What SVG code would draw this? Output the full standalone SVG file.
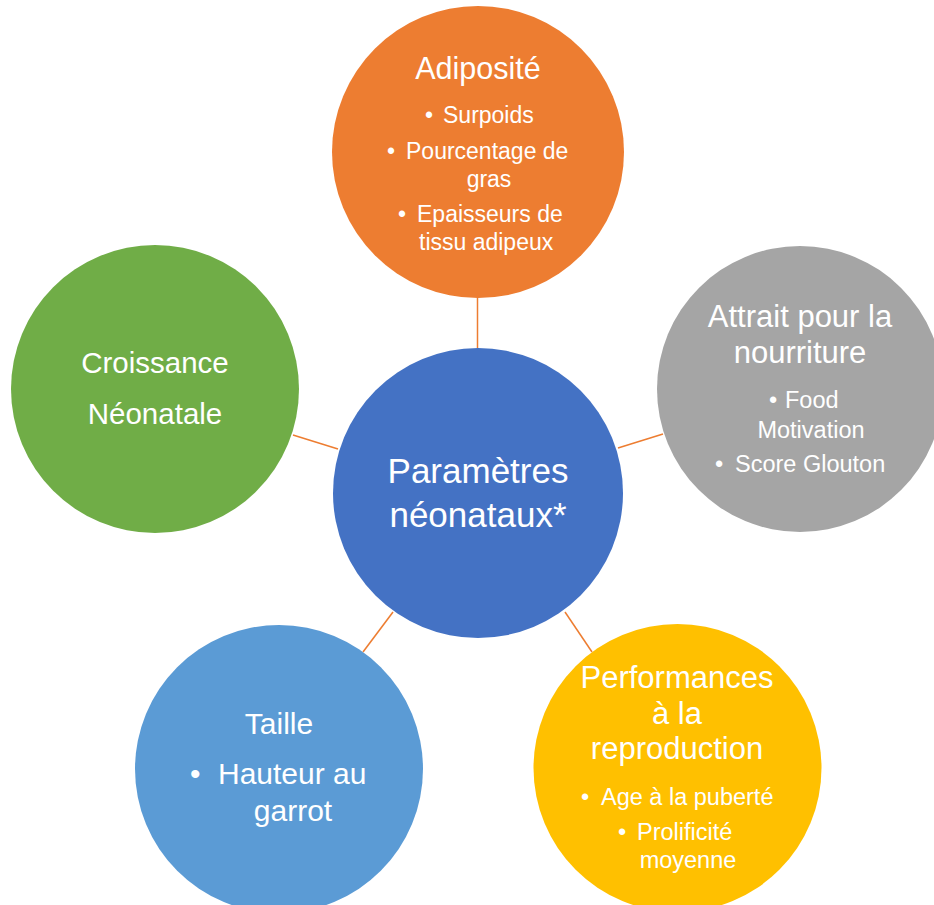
<svg xmlns="http://www.w3.org/2000/svg" width="934" height="905" viewBox="0 0 934 905">
<style>
text{font-family:"Liberation Sans",Arial,sans-serif;fill:#fff}
.c{text-anchor:middle}
.conn line{stroke:#ED7D31;stroke-width:1.5}
</style>
<rect width="934" height="905" fill="#fff"/>
<g id="connectors" class="conn">
<line x1="477.5" y1="297" x2="477.5" y2="350"/>
<line x1="293" y1="435" x2="338" y2="449"/>
<line x1="618" y1="448" x2="663" y2="434"/>
<line x1="363" y1="652" x2="393" y2="612"/>
<line x1="565" y1="612" x2="592" y2="652"/>
</g>
<g id="adiposite">
<circle cx="478" cy="152" r="146" fill="#ED7D31"/>
<text class="c" x="478" y="79" font-size="30.5">Adiposité</text>
<g font-size="23">
<text x="425" y="123">•</text><text x="443" y="123">Surpoids</text>
<text x="387" y="159">•</text><text x="406" y="159">Pourcentage de</text>
<text class="c" x="489" y="187">gras</text>
<text x="398" y="222">•</text><text x="417" y="222">Epaisseurs de</text>
<text x="419" y="250">tissu adipeux</text>
</g>
</g>
<g id="centre">
<circle cx="478" cy="493" r="145" fill="#4472C4"/>
<text class="c" x="478" y="483" font-size="35">Paramètres</text>
<text class="c" x="478" y="527" font-size="35">néonataux*</text>
</g>
<g id="croissance">
<circle cx="155" cy="389" r="144" fill="#70AD47"/>
<text class="c" x="155" y="373" font-size="29.5">Croissance</text>
<text class="c" x="155" y="424" font-size="29.5">Néonatale</text>
</g>
<g id="attrait">
<circle cx="800" cy="389" r="143" fill="#A5A5A5"/>
<text class="c" x="800" y="327" font-size="31">Attrait pour la</text>
<text class="c" x="800" y="363" font-size="31">nourriture</text>
<g font-size="23.5">
<text x="769" y="408">•</text><text x="785" y="408">Food</text>
<text class="c" x="811" y="438">Motivation</text>
<text x="715" y="472">•</text><text x="735" y="472">Score Glouton</text>
</g>
</g>
<g id="taille">
<circle cx="279" cy="769" r="144" fill="#5B9BD5"/>
<text class="c" x="279" y="734" font-size="30">Taille</text>
<text x="190" y="784" font-size="30">•</text><text x="218" y="784" font-size="30">Hauteur au</text>
<text class="c" x="293" y="821" font-size="30">garrot</text>
</g>
<g id="reproduction">
<circle cx="677.5" cy="768" r="144" fill="#FFC000"/>
<text class="c" x="677" y="688" font-size="31">Performances</text>
<text class="c" x="677" y="724" font-size="31">à la</text>
<text class="c" x="677" y="759" font-size="31">reproduction</text>
<g font-size="23.5">
<text x="581" y="805">•</text><text x="601" y="805">Age à la puberté</text>
<text x="618" y="840">•</text><text x="637" y="840">Prolificité</text>
<text class="c" x="688" y="868">moyenne</text>
</g>
</g>
</svg>
